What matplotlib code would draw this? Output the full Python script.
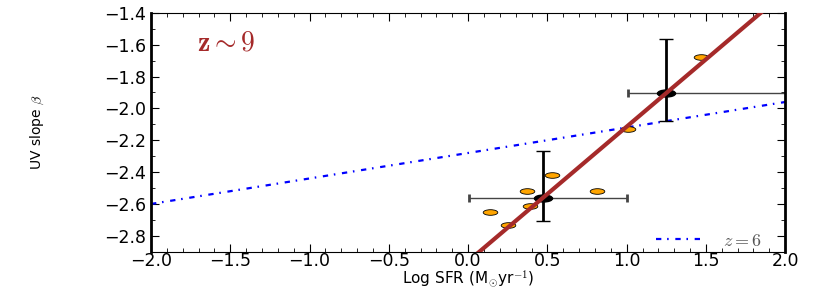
import numpy as np
import matplotlib
matplotlib.use('Agg')
from matplotlib import pyplot as plt
from matplotlib.path import Path
from matplotlib.transforms import Affine2D
from matplotlib.ticker import MultipleLocator

plt.rcParams['mathtext.fontset'] = 'cm'

# individual galaxies
sfr = [0.14, 0.25, 0.37, 0.39, 0.53, 0.81, 1.01, 1.47]
beta = [-2.65, -2.73, -2.52, -2.61, -2.42, -2.52, -2.13, -1.68]

# binned means
mean_sfr = [0.475, 1.247]
mean_beta = [-2.565, -1.905]
sfr_err_lo = [0.47, 0.24]
sfr_err_hi = [0.53, 0.95]
beta_err_lo = [0.145, 0.175]
beta_err_hi = [0.30, 0.34]

# fits
fit_slope, fit_icpt = 0.845, -2.96
z6_slope, z6_icpt = 0.16, -2.28

ell = Path.unit_circle().transformed(Affine2D().scale(2.6, 1.0))

fig = plt.figure(figsize=(8.3, 2.91), dpi=100)
ax = fig.add_axes([0.182, 0.135, 0.764, 0.821])

xx = np.array([-2.0, 2.0])
ax.plot(xx, z6_slope * xx + z6_icpt, color='b', ls=(0, (2.4, 2.6, 0.7, 3.0)), lw=1.6,
        label=r'$z=6$')
ax.errorbar(mean_sfr, mean_beta, yerr=[beta_err_lo, beta_err_hi], fmt='none',
            ecolor='k', elinewidth=2, capsize=5, capthick=1)
ax.errorbar(mean_sfr, mean_beta, xerr=[sfr_err_lo, sfr_err_hi], fmt='none',
            ecolor='#444444', elinewidth=1, capsize=3, capthick=2)
ax.scatter(sfr, beta, marker=ell, s=110, c='orange', edgecolors='k', linewidths=0.6, zorder=3)
ax.scatter(mean_sfr, mean_beta, marker=ell, s=170, c='k', zorder=4)
ax.plot(xx, fit_slope * xx + fit_icpt, color='#a52a2a', lw=3, zorder=5)

ax.text(-1.71, -1.585, r'$\mathbf{z \sim 9}$', color='#a52a2a', fontsize=20, va='center')

ax.set_xlim(-2.0, 2.0)
ax.set_ylim(-2.9, -1.4)
ax.xaxis.set_major_locator(MultipleLocator(0.5))
ax.xaxis.set_minor_locator(MultipleLocator(0.1))
ax.yaxis.set_major_locator(MultipleLocator(0.2))
ax.yaxis.set_minor_locator(MultipleLocator(0.1))
ax.tick_params(which='both', direction='in', top=True, right=True, labelsize=12.5)
ax.tick_params(which='major', length=6)
ax.tick_params(which='minor', length=3)
ax.tick_params(axis='x', pad=0)
for s in ['left', 'right']:
    ax.spines[s].set_linewidth(2)
for s in ['top', 'bottom']:
    ax.spines[s].set_linewidth(0.8)

ax.set_xlabel(r'Log SFR (M$_{\odot}$yr$^{-1}$)', fontsize=11, labelpad=-1)
ax.set_ylabel(r'UV slope $\beta$', fontsize=10)
ax.yaxis.set_label_coords(-0.165, 0.5)

leg = ax.legend(loc='lower right', bbox_to_anchor=(0.975, -0.022), frameon=False,
                fontsize=13, handlelength=2.5, handletextpad=1.2, borderaxespad=0)
for t in leg.get_texts():
    t.set_color('#555555')

fig.savefig('out.png', dpi=100)
